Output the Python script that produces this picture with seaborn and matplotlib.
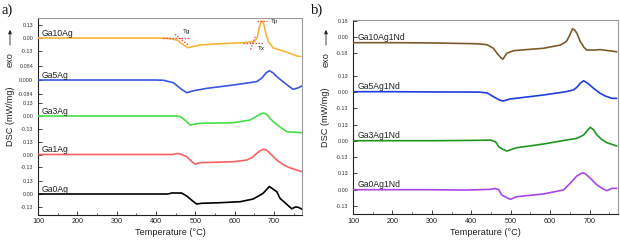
import numpy as np
import pandas as pd
import matplotlib
matplotlib.use("Agg")
import matplotlib.pyplot as plt
from matplotlib.ticker import MultipleLocator
import seaborn as sns

# ---------------- data ----------------
# panel a)
ga10_T = [100, 200, 300, 400, 430, 453, 470, 481, 495, 512, 550, 588, 622, 650, 657, 662, 667, 671, 675, 680, 686, 698, 715, 736, 758, 771]
ga10_V = [0, 0, 0, 0, -0.003, -0.02, -0.07, -0.097, -0.085, -0.07, -0.06, -0.053, -0.047, -0.035, 0.0, 0.10, 0.165, 0.17, 0.12, 0.03, -0.04, -0.10, -0.12, -0.147, -0.18, -0.19]

ga5_T = [100, 200, 300, 400, 420, 444, 465, 478, 495, 529, 597, 656, 669, 680, 688, 697, 707, 728, 748, 760, 771]
ga5_V = [0, 0, 0, 0, -0.002, -0.017, -0.058, -0.079, -0.067, -0.052, -0.031, -0.010, 0.012, 0.045, 0.058, 0.045, 0.021, -0.021, -0.058, -0.05, -0.037]

ga3_T = [100, 200, 300, 400, 450, 461, 470, 478, 486, 500, 512, 597, 639, 655, 665, 673, 680, 690, 698, 715, 732, 771]
ga3_V = [0, 0, 0, 0, 0, -0.005, -0.03, -0.057, -0.09, -0.08, -0.073, -0.067, -0.04, -0.005, 0.02, 0.03, 0.02, -0.023, -0.057, -0.11, -0.157, -0.167]

ga1_T = [100, 200, 300, 400, 440, 455, 465, 478, 490, 499, 512, 597, 631, 645, 656, 665, 673, 681, 690, 707, 725, 741, 771]
ga1_V = [0, 0, 0, 0, 0, 0.01, 0.0, -0.023, -0.07, -0.10, -0.085, -0.075, -0.057, -0.03, 0.012, 0.04, 0.054, 0.047, 0.01, -0.057, -0.11, -0.14, -0.178]

ga0_T = [100, 200, 300, 400, 430, 440, 465, 478, 490, 503, 516, 563, 614, 647, 665, 673, 681, 688, 697, 707, 715, 730, 745, 754, 762, 771]
ga0_V = [0, 0, 0, 0, 0.0, 0.01, 0.01, -0.02, -0.06, -0.10, -0.093, -0.087, -0.077, -0.05, -0.01, 0.01, 0.045, 0.075, 0.05, 0.023, -0.043, -0.095, -0.148, -0.13, -0.133, -0.153]

# panel b)
nd10_T = [100, 200, 300, 414, 440, 456, 466, 473, 480, 490, 507, 540, 583, 625, 634, 642, 650, 657, 663, 668, 676, 686, 693, 710, 727, 769]
nd10_V = [-0.067, -0.067, -0.07, -0.079, -0.09, -0.13, -0.19, -0.225, -0.254, -0.187, -0.157, -0.145, -0.13, -0.095, -0.074, -0.05, 0.02, 0.09, 0.07, 0.04, -0.05, -0.12, -0.15, -0.15, -0.145, -0.169]

nd5_T = [100, 200, 300, 420, 440, 456, 470, 480, 499, 583, 640, 659, 668, 677, 685, 695, 710, 727, 740, 757, 769]
nd5_V = [0, 0.0, -0.002, -0.003, -0.01, -0.04, -0.065, -0.076, -0.059, -0.027, 0.0, 0.014, 0.036, 0.07, 0.089, 0.07, 0.028, -0.013, -0.035, -0.054, -0.054]

nd3_T = [100, 200, 300, 420, 450, 462, 470, 480, 490, 515, 583, 640, 668, 685, 695, 702, 710, 719, 731, 744, 769]
nd3_V = [0, 0, 0, 0.003, 0.005, -0.01, -0.049, -0.07, -0.084, -0.057, -0.027, 0.005, 0.019, 0.046, 0.085, 0.109, 0.09, 0.046, 0.01, -0.016, -0.043]

nd0_T = [100, 200, 300, 380, 420, 450, 460, 470, 477, 488, 499, 515, 583, 634, 651, 668, 683, 692, 702, 719, 735, 744, 757, 769]
nd0_V = [0, 0, 0, -0.003, 0, 0.003, 0.01, 0.0, -0.042, -0.06, -0.077, -0.056, -0.034, -0.002, 0.051, 0.11, 0.136, 0.12, 0.091, 0.038, 0.005, -0.008, 0.011, 0.011]

# tangent construction lines on Ga10Ag
tg_h_T, tg_h_V = [418, 487], [0.0, 0.0]
tg_s_T, tg_s_V = [448, 482], [0.037, -0.07]
tx_h_T, tx_h_V = [621, 672], [-0.047, -0.047]
tx_s_T, tx_s_V = [652, 639], [0.013, -0.127]
tp_h_T, tp_h_V = [657, 682], [0.173, 0.173]
tag_names = ["Tg", "Tx", "Tp"]
tag_T = [469, 659, 693]
tag_V = [0.07, -0.10, 0.165]

names_a = ["Ga10Ag", "Ga5Ag", "Ga3Ag", "Ga1Ag", "Ga0Ag"]
series_a = [(ga10_T, ga10_V), (ga5_T, ga5_V), (ga3_T, ga3_V), (ga1_T, ga1_V), (ga0_T, ga0_V)]
colors_a = ["#F5B43C", "#3A56E2", "#45E045", "#F26262", "#000000"]
ticks_a = [[-0.13, 0.0, 0.13], [-0.084, 0.0, 0.084], [-0.13, 0.0, 0.13], [-0.13, 0.0, 0.13], [-0.13, 0.0, 0.13]]
ticklab_a = [["-0.13", "0.00", "0.13"], ["-0.084", "0.000", "0.084"], ["-0.13", "0.00", "0.13"],
             ["-0.13", "0.00", "0.13"], ["-0.13", "0.00", "0.13"]]
ylims_a = [(-0.194, 0.20), (-0.1045, 0.1406), (-0.202, 0.192), (-0.219, 0.190), (-0.21, 0.184)]

names_b = ["Ga10Ag1Nd", "Ga5Ag1Nd", "Ga3Ag1Nd", "Ga0Ag1Nd"]
series_b = [(nd10_T, nd10_V), (nd5_T, nd5_V), (nd3_T, nd3_V), (nd0_T, nd0_V)]
colors_b = ["#7C5A2C", "#1F3DDC", "#1E961E", "#A946EA"]
ticks_b = [[-0.18, 0.0, 0.18], [-0.13, 0.0, 0.13], [-0.13, 0.0, 0.13], [-0.13, 0.0, 0.13]]
ticklab_b = [["-0.18", "0.00", "0.18"], ["-0.13", "0.00", "0.13"], ["-0.13", "0.00", "0.13"], ["-0.13", "0.00", "0.13"]]
ylims_b = [(-0.354, 0.1935), (-0.2048, 0.191), (-0.2023, 0.1934), (-0.196, 0.192)]

xticks = [100, 200, 300, 400, 500, 600, 700]
XLIM = (100, 771)

# ---------------- style ----------------
sns.set_style("ticks")
plt.rcParams["font.family"] = ["Liberation Sans", "DejaVu Sans"]

W, H = 620, 241
fig = plt.figure(figsize=(W / 100, H / 100), dpi=100)


def px_rect(x0, y0, x1, y1):
    return [x0 / W, 1 - y1 / H, (x1 - x0) / W, (y1 - y0) / H]


def make_panel(rect, names, series, colors, ticks, ticklabs, ylims, label_T):
    ax = fig.add_axes(rect)
    ax.set_facecolor("white")
    ax.set_xlim(*XLIM)
    ax.set_ylim(0, 1)
    ax.set_yticks([])
    ax.set_xticks(xticks)
    ax.xaxis.set_minor_locator(MultipleLocator(50))
    ax.tick_params(axis="x", which="major", direction="in", length=3, width=0.6,
                   labelsize=5.2, pad=2.5, labelcolor="#222222")
    ax.tick_params(axis="x", which="minor", direction="in", length=1.5, width=0.5)
    for s in ["left", "bottom"]:
        ax.spines[s].set_color("#222222")
        ax.spines[s].set_linewidth(0.8)
    for s in ["top", "right"]:
        ax.spines[s].set_color("#9a9a9a")
        ax.spines[s].set_linewidth(0.8)
    ax.set_xlabel("Temperature (°C)", fontsize=6.6, labelpad=2, color="#222222")
    n = len(names)
    subs = []
    for k in range(n):
        c = ax.inset_axes([0, 1 - (k + 1) / n, 1, 1 / n])
        c.patch.set_alpha(0)
        for sp in c.spines.values():
            sp.set_visible(False)
        c.set_xlim(*XLIM)
        c.set_ylim(*ylims[k])
        c.set_xticks([])
        c.set_yticks(ticks[k])
        c.set_yticklabels(ticklabs[k])
        c.tick_params(axis="y", direction="in", length=3, width=0.6, labelsize=3.9,
                      pad=3.5, labelcolor="#333333")
        T, V = series[k]
        df = pd.DataFrame({"T": T, "V": V})
        sns.lineplot(data=df, x="T", y="V", ax=c, color=colors[k], linewidth=1.2,
                     estimator=None, sort=False)
        c.set_xlabel("")
        c.set_ylabel("")
        c.text(label_T, V[0] + 0.005 * (ylims[k][1] - ylims[k][0]) / 0.4, names[k],
               fontsize=6.2, va="bottom", ha="left", color="#222222")
        subs.append(c)
    return ax, subs


axA, subsA = make_panel(px_rect(38, 18, 302, 215), names_a, series_a, colors_a,
                        ticks_a, ticklab_a, ylims_a, 109)
axB, subsB = make_panel(px_rect(353, 19.5, 617.5, 214.3), names_b, series_b, colors_b,
                        ticks_b, ticklab_b, ylims_b, 112)

# tangent construction on Ga10Ag
c0 = subsA[0]
for tt, vv in [(tg_h_T, tg_h_V), (tg_s_T, tg_s_V), (tx_h_T, tx_h_V), (tx_s_T, tx_s_V), (tp_h_T, tp_h_V)]:
    sns.lineplot(x=tt, y=vv, ax=c0, color="#F04848", linewidth=0.9, linestyle=(0, (1.2, 1.2)),
                 estimator=None, sort=False)
for nm, tt, vv in zip(tag_names, tag_T, tag_V):
    c0.text(tt, vv, nm, fontsize=4.6, va="center", ha="left", color="#222222")

# figure texts
for x_exo, x_dsc, yc, lab, xl in [(10, 11, 116.5, "a)", 1), (326, 326, 117, "b)", 311)]:
    fig.text(x_dsc / W, 1 - yc / H, "DSC (mW/mg)", rotation=90, ha="center", va="center",
             fontsize=6.6, color="#222222")
    fig.text(x_exo / W, 1 - 60 / H, "exo", rotation=90, ha="center", va="center",
             fontsize=6.6, color="#222222")
    fig.add_artist(matplotlib.patches.FancyArrowPatch(
        (x_exo / W, 1 - 48 / H), (x_exo / W, 1 - 27 / H), transform=fig.transFigure,
        arrowstyle="-|>,head_length=2.2,head_width=1.0", color="#222222", linewidth=0.6,
        mutation_scale=1))
    fig.text(xl / W, 1 - 10 / H, lab, ha="left", va="center", fontsize=10.5,
             family=["Liberation Serif", "DejaVu Serif"], color="#111111")

fig.savefig("out.png", dpi=100)
